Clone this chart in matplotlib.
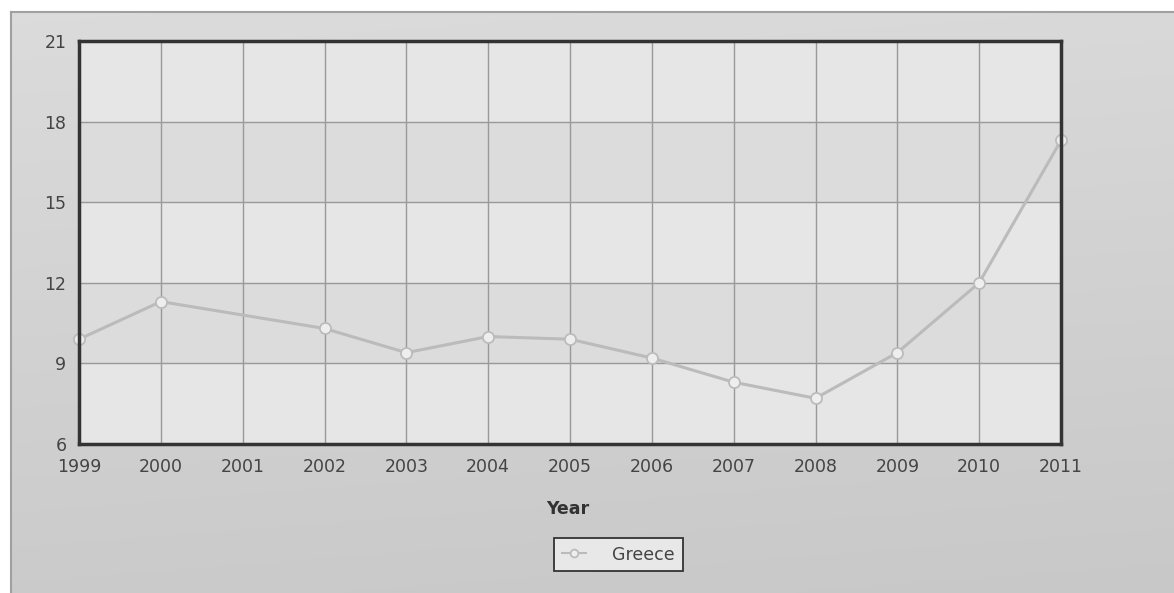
import matplotlib
matplotlib.use("Agg")
import matplotlib.pyplot as plt
import numpy as np

years = [1999, 2000, 2002, 2003, 2004, 2005, 2006, 2007, 2008, 2009, 2010, 2011]
greece = [9.9, 11.3, 10.3, 9.4, 10.0, 9.9, 9.2, 8.3, 7.7, 9.4, 12.0, 17.3]
x_ticks = list(range(1999, 2012))
y_ticks = [6, 9, 12, 15, 18, 21]
series_name = "Greece"
x_label = "Year"

W, H = 1174, 593
fig = plt.figure(figsize=(W / 100, H / 100), dpi=100)
fig.patch.set_facecolor("white")

# outer gradient panel
bg = fig.add_axes([11 / W, 0, 1 - 11 / W, 1 - 12 / H], zorder=0)
yy, xx = np.mgrid[0:1:200j, 0:1:300j]
g = 0.86 - 0.065 * yy - 0.01 * xx
bg.imshow(np.dstack([g, g, g]), aspect="auto", extent=[0, 1, 0, 1], origin="upper")
bg.set_xlim(0, 1)
bg.set_ylim(0, 1)
bg.set_xticks([])
bg.set_yticks([])
for side, sp in bg.spines.items():
    if side in ("left", "top"):
        sp.set_color("#a0a0a0")
        sp.set_linewidth(1.5)
    else:
        sp.set_visible(False)

ax = fig.add_axes([79 / W, 1 - 444 / H, (1061 - 79) / W, (444 - 41) / H], zorder=2)
ax.set_xlim(1999, 2011)
ax.set_ylim(6, 21)

# alternating bands
for i in range(len(y_ticks) - 1):
    col = "#e6e6e6" if i % 2 == 0 else "#dcdcdc"
    ax.axhspan(y_ticks[i], y_ticks[i + 1], color=col, zorder=0, lw=0)

for xv in x_ticks:
    ax.axvline(xv, color="#999999", lw=1, zorder=1)
for yv in y_ticks:
    ax.axhline(yv, color="#999999", lw=1, zorder=1)

ax.plot(years, greece, color="#bbbbbb", lw=2.2, marker="o", markersize=8,
        markerfacecolor="#eeeeee", markeredgecolor="#bbbbbb", markeredgewidth=1.3,
        zorder=3, clip_on=False, label=series_name)

ax.set_xticks(x_ticks)
ax.set_xticklabels([str(v) for v in x_ticks])
ax.set_yticks(y_ticks)
ax.set_yticklabels([str(v) for v in y_ticks])
ax.tick_params(axis="both", length=0, labelsize=12.5, labelcolor="#444444")
ax.tick_params(axis="x", pad=10)
ax.tick_params(axis="y", pad=9)

for sp in ax.spines.values():
    sp.set_color("#333333")
    sp.set_linewidth(2.5)
    sp.set_zorder(4)

fig.text(568 / W, 1 - 509 / H, x_label, ha="center", va="center",
         fontsize=12.5, fontweight="bold", color="#333333")

leg = fig.legend(loc="center", bbox_to_anchor=(618.5 / W, 1 - 554.5 / H),
                 fontsize=12.5, frameon=True, fancybox=False,
                 edgecolor="#333333", facecolor="#e8e8e8", framealpha=1,
                 handlelength=1.4, handletextpad=1.5, borderpad=0.45,
                 borderaxespad=0, markerscale=0.7)
leg.get_frame().set_linewidth(1.3)
for line in leg.get_lines():
    line.set_linewidth(1.5)
for t in leg.get_texts():
    t.set_color("#444444")

fig.savefig("out.png", dpi=100)
